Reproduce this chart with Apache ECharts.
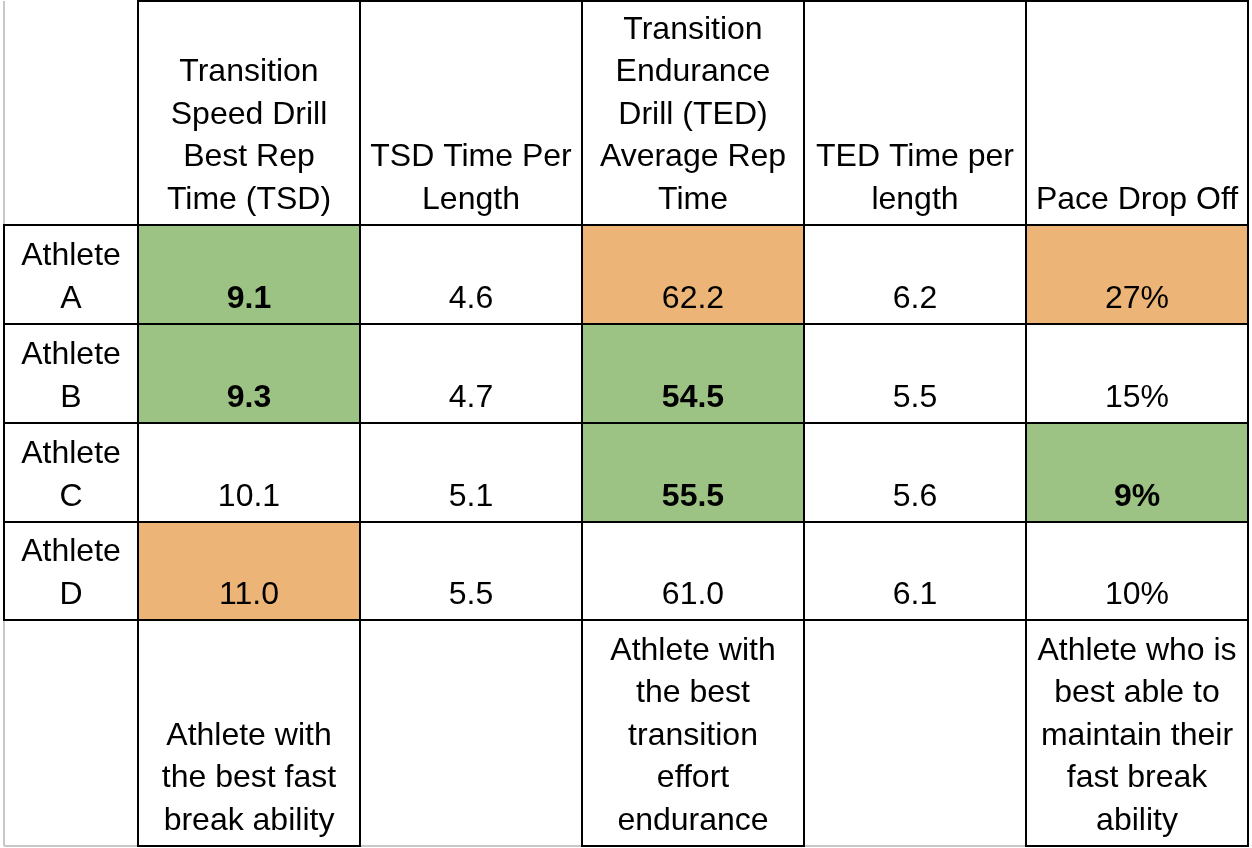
<!DOCTYPE html>
<html>
<head>
<meta charset="utf-8">
<script src="https://cdn.jsdelivr.net/npm/echarts@6/dist/echarts.min.js"></script>
<style>
  html, body { margin: 0; padding: 0; background: #fff; }
  #chart { width: 1252px; height: 848px; }
</style>
</head>
<body>
<div id="chart"></div>
<script>
// 表头（按原图换行）
const headers = [
  '',
  'Transition\nSpeed Drill\nBest Rep\nTime (TSD)',
  'TSD Time Per\nLength',
  'Transition\nEndurance\nDrill (TED)\nAverage Rep\nTime',
  'TED Time per\nlength',
  'Pace Drop Off'
];
const athletes = ['Athlete\nA', 'Athlete\nB', 'Athlete\nC', 'Athlete\nD'];

// 各列数值
const tsdBest = [9.1, 9.3, 10.1, 11.0];
const tsdPerLength = [4.6, 4.7, 5.1, 5.5];
const tedAverage = [62.2, 54.5, 55.5, 61.0];
const tedPerLength = [6.2, 5.5, 5.6, 6.1];
const paceDropOff = [27, 15, 9, 10];

// 高亮标记: best = 绿色加粗, worst = 橙色
const tsdMark = ['best', 'best', '', 'worst'];
const tedMark = ['worst', 'best', 'best', ''];
const dropMark = ['worst', '', 'best', ''];

// 底部说明
const notes = [
  '',
  'Athlete with\nthe best fast\nbreak ability',
  '',
  'Athlete with\nthe best\ntransition\neffort\nendurance',
  '',
  'Athlete who is\nbest able to\nmaintain their\nfast break\nability'
];

// 布局（列宽、行高，单位与坐标轴一致）
const colWidths = [134, 222, 222, 222, 222, 222];
const rowHeights = [224, 99, 99, 99, 98, 226];
const markColors = { best: '#9dc384', worst: '#ecb476' };
const FONT = '"Liberation Sans", Arial, sans-serif';

const cumsum = arr => arr.reduce((acc, v) => { acc.push(acc[acc.length - 1] + v); return acc; }, [0]);
const xEdges = cumsum(colWidths);
const yEdges = cumsum(rowHeights);

// 组装单元格
const cells = [];
headers.forEach((h, c) => cells.push({ col: c, row: 0, text: h, mark: '', bordered: c > 0 }));
athletes.forEach((name, i) => {
  const r = i + 1;
  const row = [
    { text: name, mark: '' },
    { text: tsdBest[i].toFixed(1), mark: tsdMark[i] },
    { text: tsdPerLength[i].toFixed(1), mark: '' },
    { text: tedAverage[i].toFixed(1), mark: tedMark[i] },
    { text: tedPerLength[i].toFixed(1), mark: '' },
    { text: paceDropOff[i] + '%', mark: dropMark[i] }
  ];
  row.forEach((cell, c) => cells.push({ col: c, row: r, text: cell.text, mark: cell.mark, bordered: true }));
});
notes.forEach((n, c) => cells.push({ col: c, row: 5, text: n, mark: '', bordered: n !== '' }));

const lastRow = rowHeights.length - 1;

function renderCell(params, api) {
  const cell = cells[params.dataIndex];
  const c = api.value(0);
  const r = api.value(1);
  const p0 = api.coord([xEdges[c], yEdges[r]]);
  const p1 = api.coord([xEdges[c + 1], yEdges[r + 1]]);
  const x = p0[0], y = p0[1], w = p1[0] - p0[0], h = p1[1] - p0[1];
  const children = [];

  if (cell.mark) {
    children.push({
      type: 'rect',
      shape: { x: x, y: y, width: w, height: h },
      style: { fill: markColors[cell.mark] }
    });
  }

  if (cell.bordered) {
    children.push({
      type: 'rect',
      z2: 10,
      shape: { x: x, y: y, width: w, height: h },
      style: { fill: 'none', stroke: '#000', lineWidth: 2 }
    });
  } else {
    // 无边框单元格只保留表格外沿的浅灰线
    if (c === 0) {
      children.push({
        type: 'line', z2: 5,
        shape: { x1: x, y1: y, x2: x, y2: y + h },
        style: { stroke: '#c8c8c8', lineWidth: 2 }
      });
    }
    if (r === lastRow) {
      children.push({
        type: 'line', z2: 5,
        shape: { x1: x, y1: y + h, x2: x + w, y2: y + h },
        style: { stroke: '#c8c8c8', lineWidth: 2 }
      });
    }
  }

  if (cell.text) {
    children.push({
      type: 'text',
      z2: 20,
      style: {
        text: cell.text,
        x: x + w / 2,
        y: y + h - 4,
        align: 'center',
        verticalAlign: 'bottom',
        fontFamily: FONT,
        fontSize: 32,
        fontWeight: cell.mark === 'best' ? 'bold' : 'normal',
        lineHeight: 42.5,
        fill: '#000'
      }
    });
  }

  return { type: 'group', children: children };
}

const chart = echarts.init(document.getElementById('chart'));
chart.setOption({
  animation: false,
  backgroundColor: '#fff',
  grid: { left: 4, right: 4, top: 1, bottom: 2 },
  xAxis: { type: 'value', min: 0, max: xEdges[xEdges.length - 1], show: false },
  yAxis: { type: 'value', min: 0, max: yEdges[yEdges.length - 1], inverse: true, show: false },
  series: [{
    type: 'custom',
    renderItem: renderCell,
    data: cells.map(cell => [cell.col, cell.row])
  }]
});
</script>
</body>
</html>
